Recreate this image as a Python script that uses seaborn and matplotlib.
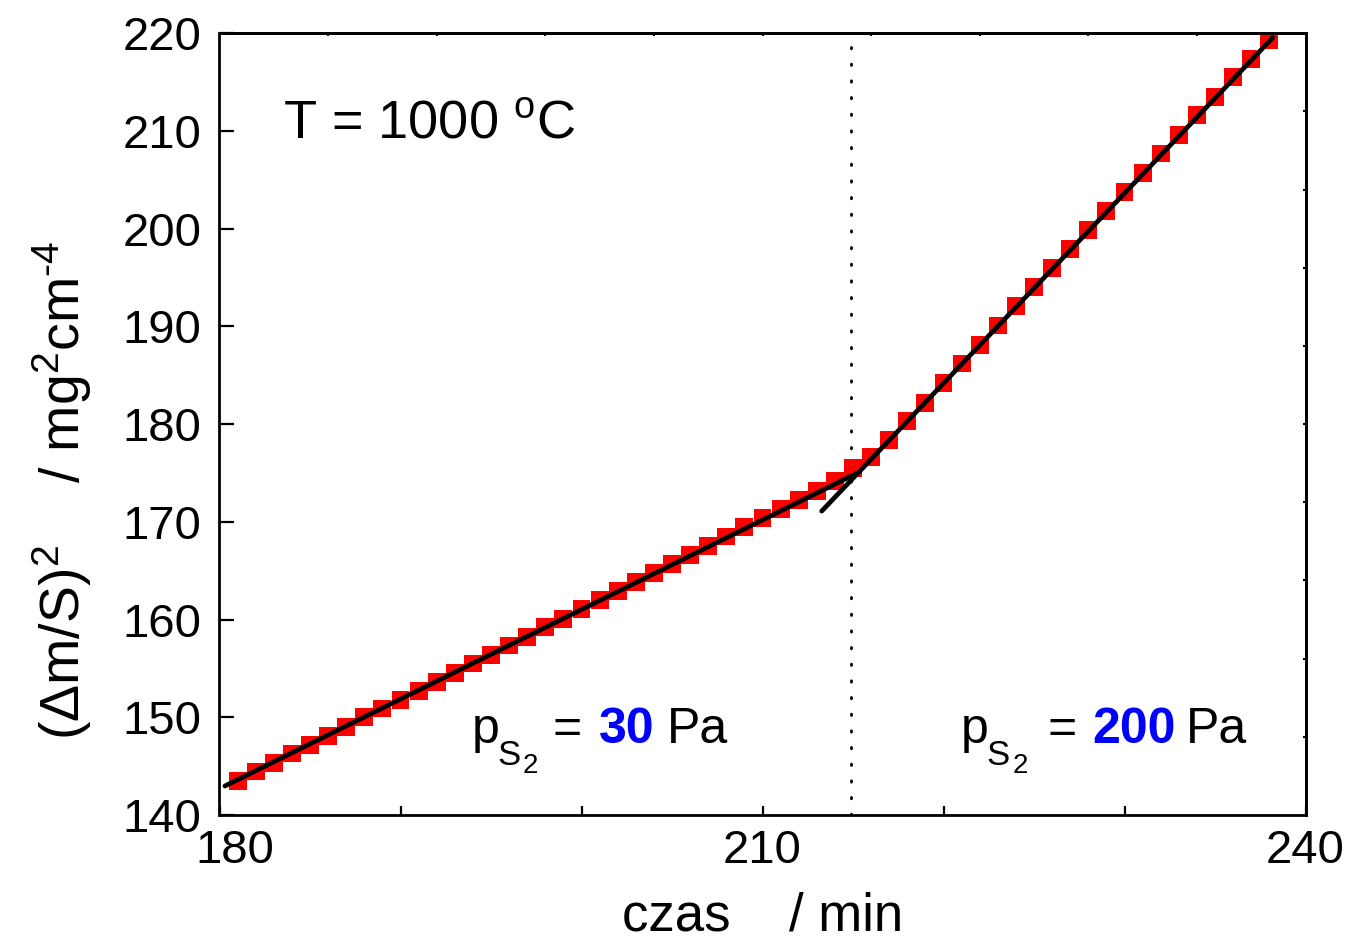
import matplotlib
matplotlib.use("Agg")
import matplotlib.pyplot as plt
import matplotlib.transforms as mtransforms
import seaborn as sns
import numpy as np
import pandas as pd

# ---------------- data ----------------
time_min = [181, 182, 183, 184, 185, 186, 187, 188, 189, 190,
            191, 192, 193, 194, 195, 196, 197, 198, 199, 200,
            201, 202, 203, 204, 205, 206, 207, 208, 209, 210,
            211, 212, 213, 214, 215, 216, 217, 218, 219, 220,
            221, 222, 223, 224, 225, 226, 227, 228, 229, 230,
            231, 232, 233, 234, 235, 236, 237, 238]
dms2 = [143.5, 144.45, 145.35, 146.3, 147.2, 148.1, 149.0, 150.0, 150.9, 151.8,
        152.7, 153.6, 154.5, 155.5, 156.4, 157.35, 158.25, 159.2, 160.1, 161.05,
        161.97, 162.9, 163.85, 164.8, 165.7, 166.6, 167.55, 168.5, 169.45, 170.4,
        171.3, 172.25, 173.2, 174.15, 175.5, 176.6, 178.4, 180.3, 182.2, 184.2,
        186.2, 188.1, 190.1, 192.1, 194.0, 196.0, 197.9, 199.87, 201.8, 203.8,
        205.7, 207.7, 209.6, 211.6, 213.5, 215.5, 217.4, 219.3]

fit_left_t = [180.3, 215.35]
fit_left_y = [142.97, 175.1]
fit_right_t = [213.27, 238.19]
fit_right_y = [171.1, 219.55]

switch_time = 214.9

x_major = [180, 210, 240]
x_minor = [190, 200, 220, 230]
y_major = [140, 150, 160, 170, 180, 190, 200, 210, 220]
top_ticks = [186, 192, 198, 204, 210, 216, 222, 228, 234]
right_ticks = [148, 156, 164, 172, 180, 188, 196, 204, 212]

label_left_value = "30"
label_right_value = "200"

# ---------------- style ----------------
sns.set_style("ticks")
plt.rcParams['font.family'] = ['Liberation Sans', 'DejaVu Sans']
plt.rcParams['mathtext.fontset'] = 'custom'
plt.rcParams['mathtext.rm'] = 'Liberation Sans'
plt.rcParams['mathtext.it'] = 'Liberation Sans:italic'
plt.rcParams['mathtext.bf'] = 'Liberation Sans:bold'
for k in ['text.color', 'axes.labelcolor', 'xtick.color', 'ytick.color', 'axes.edgecolor']:
    plt.rcParams[k] = 'black'

W, H, DPI = 1354, 939, 100
fig = plt.figure(figsize=(W / DPI, H / DPI), dpi=DPI)
ax = fig.add_axes([219.5 / W, 1 - 815 / H, (1305.5 - 219.5) / W, (815 - 33.3) / H])

df = pd.DataFrame({"t": time_min, "y": dms2})
sns.scatterplot(data=df, x="t", y="y", marker="s", s=165, color="#ff0000",
                edgecolor="none", linewidth=0, ax=ax, zorder=2)

dl = pd.DataFrame({"t": fit_left_t, "y": fit_left_y})
dr = pd.DataFrame({"t": fit_right_t, "y": fit_right_y})
for d in (dl, dr):
    sns.lineplot(data=d, x="t", y="y", color="black", linewidth=3.4, ax=ax,
                 zorder=3, solid_capstyle="round")

ax.axvline(switch_time, color="black", lw=2.0, linestyle=(0, (0.5, 5.5)),
           dash_capstyle="round", zorder=1)

ax.set_xlim(180, 240)
ax.set_ylim(140, 220)

ax.set_xticks(x_major)
ax.set_xticks(x_minor, minor=True)
ax.set_xticklabels([str(v) for v in x_major])
ax.set_yticks(y_major)
ax.set_yticklabels([str(v) for v in y_major])

for s in ax.spines.values():
    s.set_linewidth(2.0)
    s.set_color("black")
    s.set_visible(True)

ax.tick_params(axis="x", which="both", direction="in", length=6.5, width=1.6,
               labelsize=34, pad=10, colors="black")
ax.tick_params(axis="y", which="major", direction="in", length=11, width=1.6,
               labelsize=34, pad=13, colors="black")

# shift first x label to the right (as in reference)
lab0 = ax.get_xticklabels()[0]
lab0.set_transform(lab0.get_transform() +
                   mtransforms.ScaledTranslation(15 / DPI, 0, fig.dpi_scale_trans))

# small ticks on top and right axes
sec_x = ax.secondary_xaxis("top")
sec_x.set_xticks(top_ticks)
sec_x.set_xticklabels([])
sec_x.tick_params(direction="in", length=2.5, width=1.5)
sec_x.spines["top"].set_linewidth(2.0)
sec_y = ax.secondary_yaxis("right")
sec_y.set_yticks(right_ticks)
sec_y.set_yticklabels([])
sec_y.tick_params(direction="in", length=2.5, width=1.5)
sec_y.spines["right"].set_linewidth(2.0)

ax.set_xlabel("czas    / min", fontsize=38)
ax.set_ylabel(r"($\Delta$m/S)$^{\mathrm{2}}$    / mg$^{\mathrm{2}}$cm$^{\text{-4}}$",
              fontsize=40)
ax.xaxis.set_label_coords(0.5, -0.098)
ax.yaxis.set_label_coords(-0.116, 0.416)

# annotations
ax.text(0.0587, 0.8644, r"T = 1000 $^{\mathrm{o}}$C", transform=ax.transAxes,
        fontsize=39, ha="left", va="baseline")

BASE = 0.0925
def p_label(xp, xs, x2, xeq, xv, xpa, value):
    ax.text(xp, BASE, "p", transform=ax.transAxes, fontsize=36,
            ha="left", va="baseline")
    ax.text(xs, 0.0645, "S", transform=ax.transAxes, fontsize=25,
            ha="left", va="baseline")
    ax.text(x2, 0.0533, "2", transform=ax.transAxes, fontsize=20,
            ha="left", va="baseline")
    ax.text(xeq, BASE, "=", transform=ax.transAxes, fontsize=36,
            ha="left", va="baseline")
    ax.text(xv, BASE, value, transform=ax.transAxes, fontsize=36,
            fontweight="bold", color="#0000ff", ha="left", va="baseline")
    ax.text(xpa, BASE, "Pa", transform=ax.transAxes, fontsize=36,
            ha="left", va="baseline")

p_label(0.2323, 0.2555, 0.2790, 0.3070, 0.3494, 0.4121, label_left_value)
p_label(0.6828, 0.7064, 0.7300, 0.7620, 0.8034, 0.8901, label_right_value)

fig.savefig("out.png", dpi=DPI)
